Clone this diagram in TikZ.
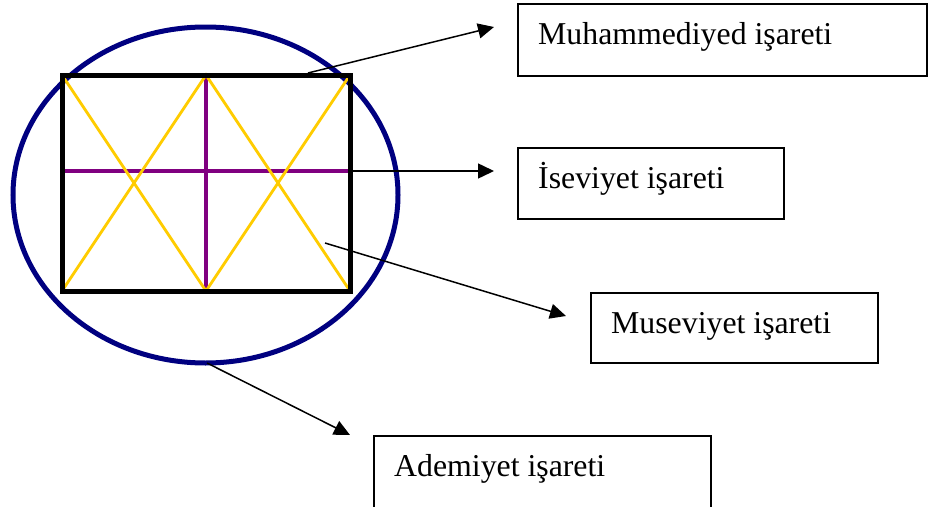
\documentclass[tikz,border=0pt]{standalone}
\usepackage{fontspec}
\setmainfont{Liberation Serif}
\usetikzlibrary{arrows.meta,shapes.geometric}
\definecolor{navyc}{RGB}{0,0,128}
\definecolor{goldc}{RGB}{255,204,0}
\definecolor{purplec}{RGB}{128,0,128}
\tikzset{
  labelbox/.style={draw=black, line width=1.5pt, anchor=north west, inner sep=0pt},
  labeltext/.style={anchor=base west, inner sep=0pt, font=\fontsize{31.8}{38}\selectfont},
  pointer/.style={line width=1.5pt, -{Triangle[length=16pt,width=15pt]}},
  frame/.style={line width=5pt, line join=miter},
  goldline/.style={goldc, line width=2.8pt},
  crossline/.style={purplec, line width=3.6pt},
}
\begin{document}
\begin{tikzpicture}[x=1pt,y=-1pt]
\useasboundingbox (0,0) rectangle (934,506);
\clip (0,0) rectangle (934,506);
% ellipse
\node[draw=navyc, line width=5pt, ellipse, minimum width=385pt, minimum height=336pt, inner sep=0pt] (ell) at (205.5,195) {};
% rectangle corners
\coordinate (tl) at (62,75);
\coordinate (tm) at (206,75);
\coordinate (tr) at (350,75);
\coordinate (bl) at (62,291);
\coordinate (bm) at (206,291);
\coordinate (br) at (350,291);
\coordinate (ml) at (62,171);
\coordinate (mr) at (350,171);
% purple cross
\draw[crossline] (ml) -- (mr);
\draw[crossline] (tm) -- (bm);
% gold lines
\draw[goldline] (tl) -- (bm) -- (tr);
\draw[goldline] (bl) -- (tm) -- (br);
% frame
\draw[frame] (tl) rectangle (br);
% boxes
\node[labelbox, minimum width=409pt, minimum height=72pt] (b1) at (517,3) {};
\node[labelbox, minimum width=266pt, minimum height=71pt] (b2) at (517,147) {};
\node[labelbox, minimum width=287pt, minimum height=70pt] (b3) at (590,292) {};
\node[labelbox, minimum width=337pt, minimum height=90pt] (b4) at (373,435) {};
\node[labeltext] (t1) at ([xshift=21pt,yshift=-41pt]b1.north west) {Muhammediyed işareti};
\node[labeltext] (t2) at ([xshift=21pt,yshift=-41pt]b2.north west) {İseviyet işareti};
\node[labeltext] (t3) at ([xshift=21pt,yshift=-41pt]b3.north west) {Museviyet işareti};
\node[labeltext] (t4) at ([xshift=21pt,yshift=-41pt]b4.north west) {Ademiyet işareti};
% arrow endpoints
\coordinate (s1) at (308,73);
\coordinate (e1) at (494,27);
\coordinate (e2) at (494,171);
\coordinate (s3) at (325,243);
\coordinate (e3) at (566,316);
\coordinate (s4) at (207,363);
\coordinate (e4) at (350,435);
\draw[pointer] (s1) -- (e1);
\draw[pointer] (mr) -- (e2);
\draw[pointer] (s3) -- (e3);
\draw[pointer] (s4) -- (e4);
\end{tikzpicture}
\end{document}
